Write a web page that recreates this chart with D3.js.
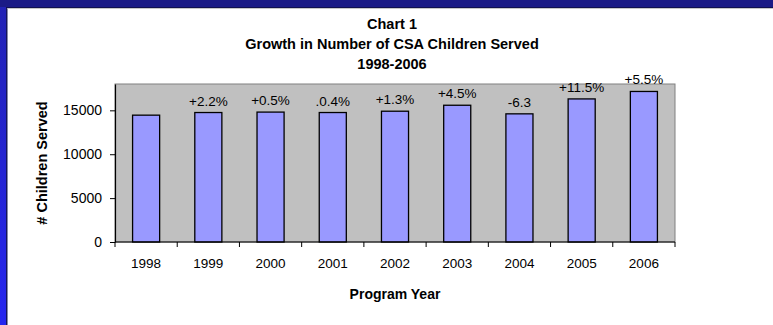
<!DOCTYPE html>
<html>
<head>
<meta charset="utf-8">
<script src="https://cdn.jsdelivr.net/npm/d3@7/dist/d3.min.js"></script>
<style>
html,body{margin:0;padding:0;background:#fff;}
svg{display:block;font-family:"Liberation Sans",Arial,sans-serif;}
</style>
</head>
<body>
<svg id="chart" width="773" height="325"></svg>
<script>
const years = ["1998","1999","2000","2001","2002","2003","2004","2005","2006"];
const children = [14450, 14750, 14800, 14750, 14900, 15580, 14600, 16300, 17150];
const growthLabels = ["", "+2.2%", "+0.5%", ".0.4%", "+1.3%", "+4.5%", "-6.3", "+11.5%", "+5.5%"];
const yTicks = [0, 5000, 10000, 15000];
const titleLines = ["Chart 1", "Growth in Number of CSA Children Served", "1998-2006"];

const svg = d3.select("#chart");
const W = 773, H = 325;

// frame
const defs = svg.append("defs");
const lg = defs.append("linearGradient").attr("id","leftG").attr("x1",0).attr("y1",0).attr("x2",0).attr("y2",1);
lg.append("stop").attr("offset","0%").attr("stop-color","#2222b4");
lg.append("stop").attr("offset","100%").attr("stop-color","#2626f0");
svg.append("rect").attr("x",0).attr("y",0).attr("width",W).attr("height",H).attr("fill","#fff");
svg.append("rect").attr("x",0).attr("y",0).attr("width",7).attr("height",H).attr("fill","url(#leftG)");
svg.append("rect").attr("x",6).attr("y",7).attr("width",1.5).attr("height",H).attr("fill","#15155a");
svg.append("rect").attr("x",0).attr("y",0).attr("width",W).attr("height",7).attr("fill","#1b1b86");
svg.append("rect").attr("x",6).attr("y",7).attr("width",W).attr("height",1).attr("fill","#111150");
svg.append("rect").attr("x",7.5).attr("y",8).attr("width",W).attr("height",1).attr("fill","#c8c8c8");

const L = 115, R = 675, T = 84, B = 242;
const x = d3.scaleBand().domain(years).range([L, R]).padding(0);
const y = d3.scaleLinear().domain([0, 18000]).range([B, T]);

// plot area
svg.append("rect").attr("x",L).attr("y",T).attr("width",R-L).attr("height",B-T)
  .attr("fill","#c0c0c0").attr("stroke","#808080").attr("stroke-width",1);

// bars
const bw = x.bandwidth()*0.435;
svg.append("g").selectAll("rect").data(years).join("rect")
  .attr("x", (d)=> x(d) + x.bandwidth()/2 - bw/2)
  .attr("y", (d,i)=> y(children[i]))
  .attr("width", bw)
  .attr("height", (d,i)=> y(0) - y(children[i]))
  .attr("fill","#9999ff").attr("stroke","#000").attr("stroke-width",1.3);

// data labels
svg.append("g").selectAll("text").data(years).join("text")
  .attr("x", d => x(d) + x.bandwidth()/2)
  .attr("y", (d,i)=> y(children[i]) - 7)
  .attr("text-anchor","middle").attr("font-size","13.5px").attr("fill","#000")
  .text((d,i)=> growthLabels[i]);

// y axis
const yAxis = svg.append("g").attr("transform",`translate(${L},0)`)
  .call(d3.axisLeft(y).tickValues(yTicks).tickSize(5).tickSizeOuter(0).tickPadding(8).tickFormat(d3.format("d")));
yAxis.select(".domain").attr("stroke","#000").attr("stroke-width",1.2);
yAxis.selectAll(".tick line").attr("stroke","#000");
yAxis.selectAll(".tick text").attr("font-size","14px").attr("fill","#000").attr("font-family","'Liberation Sans',Arial,sans-serif");

// x axis line & ticks
svg.append("line").attr("x1",L).attr("x2",R).attr("y1",B).attr("y2",B).attr("stroke","#000").attr("stroke-width",1.2);
const bounds = years.map(d => x(d)).concat([R]);
svg.append("g").selectAll("line").data(bounds).join("line")
  .attr("x1",d=>d).attr("x2",d=>d).attr("y1",B).attr("y2",B+5).attr("stroke","#000");
svg.append("g").selectAll("text").data(years).join("text")
  .attr("x", d => x(d) + x.bandwidth()/2)
  .attr("y", B + 26)
  .attr("text-anchor","middle").attr("font-size","13.5px").attr("fill","#000")
  .text(d => d);

// titles
svg.append("g").selectAll("text").data(titleLines).join("text")
  .attr("x", 392).attr("y", (d,i)=> 29 + i*20)
  .attr("text-anchor","middle").attr("font-size","14.5px").attr("font-weight","bold")
  .text(d=>d);

svg.append("text").attr("x", 395).attr("y", 299)
  .attr("text-anchor","middle").attr("font-size","14px").attr("font-weight","bold")
  .text("Program Year");

svg.append("text").attr("transform","translate(47,163) rotate(-90)")
  .attr("text-anchor","middle").attr("font-size","14.5px").attr("font-weight","bold")
  .text("# Children Served");
</script>
</body>
</html>
